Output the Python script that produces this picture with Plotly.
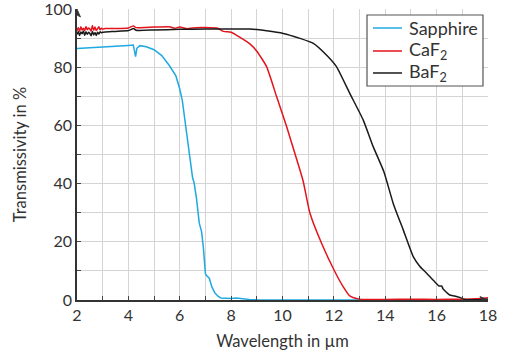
import plotly.graph_objects as go

sap_x = [2.0, 2.5, 3.0, 3.5, 4.0, 4.19, 4.24, 4.28, 4.33, 4.45, 4.7, 5.0, 5.3, 5.6, 5.85, 6.0, 6.1, 6.27,
         6.4, 6.5, 6.56, 6.65, 6.76, 6.85, 6.92, 7.0, 7.05, 7.15, 7.25, 7.37, 7.5, 7.6, 7.8, 8.0, 8.2, 8.4,
         8.7, 9.0, 10.0, 12.0, 14.0, 16.0, 18.0]
sap_y = [86.4, 86.6, 86.9, 87.2, 87.5, 87.6, 85.5, 83.6, 86.5, 87.4, 87.0, 86.0, 84.0, 80.5, 77.0, 72.5, 68.5,
         57.3, 47.0, 42.0, 40.2, 35.0, 26.4, 23.5, 18.0, 9.0, 8.3, 7.5, 4.5, 2.4, 1.2, 0.7, 0.6, 0.5, 0.7, 0.4,
         0.2, 0.1, 0.05, 0.0, 0.0, 0.0, 0.0]

caf_x = [2.0, 2.05, 2.1, 2.15, 2.2, 2.25, 2.3, 2.35, 2.4, 2.45, 2.5, 2.55, 2.6, 2.65, 2.7, 2.75, 2.8, 2.85,
         2.9, 2.95, 3.0, 3.1, 3.5, 4.0, 4.2, 4.3, 5.0, 5.6, 5.8, 6.0, 6.3, 6.5, 7.0, 7.5, 7.7, 8.0, 8.3,
         8.73, 9.0, 9.38, 9.77, 10.16, 10.48, 10.8, 11.07, 11.52, 12.04, 12.36, 12.62, 13.0, 14.0, 15.0,
         16.0, 17.0, 17.5, 18.0]
caf_y = [92.5, 93.6, 92.3, 93.9, 92.8, 93.4, 92.6, 94.0, 92.9, 93.5, 93.1, 92.4, 94.3, 92.7, 93.8, 92.6, 93.2,
         93.9, 92.9, 93.4, 93.1, 93.3, 93.3, 93.5, 94.2, 93.6, 93.8, 93.9, 93.4, 93.8, 93.2, 93.5, 93.6, 93.3,
         92.3, 92.0, 90.5, 88.0, 85.5, 80.2, 69.9, 59.6, 50.4, 41.0, 29.8, 19.5, 9.7, 4.6, 1.4, 0.3, 0.2, 0.3,
         0.2, 0.3, 0.4, 0.8]

baf_x = [2.0, 2.05, 2.1, 2.15, 2.2, 2.25, 2.3, 2.35, 2.4, 2.45, 2.5, 2.55, 2.6, 2.65, 2.7, 2.75, 2.8, 2.85,
         2.9, 2.95, 3.0, 3.1, 3.5, 4.0, 4.2, 4.3, 5.0, 6.0, 7.0, 8.0, 8.73, 9.38, 10.03, 10.68, 11.2, 11.71,
         12.1, 12.62, 13.14, 13.53, 13.95, 14.31, 14.7, 15.09, 15.35, 15.61, 15.9, 16.1, 16.2, 16.25, 16.4,
         16.51, 16.7, 16.9, 17.1, 17.5, 18.0]
baf_y = [91.2, 92.3, 90.9, 92.1, 91.5, 92.4, 91.0, 92.2, 91.3, 92.0, 91.6, 90.8, 92.3, 91.1, 91.9, 90.9, 92.0,
         91.4, 92.2, 91.8, 92.0, 92.1, 92.3, 92.6, 93.3, 92.7, 92.8, 93.0, 93.1, 93.1, 93.1, 92.5, 91.6, 89.9,
         88.2, 84.2, 80.2, 71.0, 61.9, 52.7, 44.0, 33.2, 24.1, 14.9, 11.5, 9.2, 6.5, 4.8, 4.8, 3.8, 2.5, 1.7,
         1.4, 0.9, 0.2, 0.1, 0.3]

series_names = ["Sapphire", "CaF<sub>2</sub>", "BaF<sub>2</sub>"]
series_colors = ["#1ea9e1", "#e3141c", "#1a1a1a"]
series_shapes = ["linear", "spline", "spline"]

x_ticks = [2, 4, 6, 8, 10, 12, 14, 16, 18]
y_ticks = [0, 20, 40, 60, 80, 100]

FONT = "Lato"
TXT = "#333333"
GRID = "#d4d4d4"
AXIS = "#333333"

fig = go.Figure()
for xs, ys, nm, col, shp in zip([sap_x, caf_x, baf_x], [sap_y, caf_y, baf_y], series_names,
                                series_colors, series_shapes):
    fig.add_trace(go.Scatter(x=xs, y=ys, mode="lines", name=nm, showlegend=False,
                             line=dict(color=col, width=1.5, shape=shp, smoothing=0.5)))

fig.update_layout(
    width=506, height=354,
    margin=dict(l=77, r=18, t=9, b=54, autoexpand=False),
    paper_bgcolor="white", plot_bgcolor="white",
    font=dict(family=FONT, size=16, color=TXT),
    showlegend=False,
    xaxis=dict(range=[2, 18], tickvals=x_ticks, ticktext=[str(v) for v in x_ticks],
               automargin=False, ticklabeloverflow="allow",
               showgrid=True, gridcolor=GRID, gridwidth=1,
               minor=dict(dtick=1, showgrid=True, gridcolor=GRID, gridwidth=1,
                          ticks="inside", ticklen=4, tickcolor="#444"),
               ticks="inside", ticklen=4, tickcolor="#444",
               showline=True, linecolor=AXIS, linewidth=1.5,
               zeroline=False,
               title=dict(text="Wavelength in µm", font=dict(size=16.5, color=TXT), standoff=12),
               tickfont=dict(size=16, color=TXT)),
    yaxis=dict(range=[0, 100], tickvals=y_ticks, ticktext=[str(v) for v in y_ticks],
               automargin=False, ticklabeloverflow="allow",
               showgrid=True, gridcolor=GRID, gridwidth=1,
               minor=dict(dtick=10, showgrid=True, gridcolor=GRID, gridwidth=1,
                          ticks="inside", ticklen=4, tickcolor="#444"),
               ticks="inside", ticklen=4, tickcolor="#444",
               showline=True, linecolor=AXIS, linewidth=1.5,
               zeroline=False,
               title=dict(text="Transmissivity in %", font=dict(size=16.5, color=TXT), standoff=13),
               tickfont=dict(size=16, color=TXT)),
)

# Legend box drawn by hand (paper coordinates of the plot area)
fig.add_shape(type="rect", xref="paper", yref="paper", x0=0.7056, x1=0.9878, y0=0.7354, y1=0.9794,
              fillcolor="white", line=dict(color="#555555", width=1.2), layer="above")
leg_rows = [0.9347, 0.8557, 0.7801]
for yy, nm, col in zip(leg_rows, series_names, series_colors):
    fig.add_shape(type="line", xref="paper", yref="paper", x0=0.7202, x1=0.7908, y0=yy, y1=yy,
                  line=dict(color=col, width=1.5), layer="above")
    fig.add_annotation(xref="paper", yref="paper", x=0.8029, y=yy, xanchor="left", yanchor="middle",
                       text=nm, showarrow=False, font=dict(family=FONT, size=18, color=TXT))

# Arrowheads at the axis ends (pixel-sized paths anchored to the axis ends)
fig.add_shape(type="path", xref="x", yref="y", xsizemode="pixel", ysizemode="pixel",
              xanchor=2, yanchor=100, path="M0,0 L-3.5,-8 L0,-6 L3.5,-8 Z",
              fillcolor=AXIS, line=dict(color=AXIS, width=0.8), layer="above")
fig.add_shape(type="path", xref="x", yref="y", xsizemode="pixel", ysizemode="pixel",
              xanchor=18, yanchor=0, path="M0,0 L-8,3.5 L-6,0 L-8,-3.5 Z",
              fillcolor=AXIS, line=dict(color=AXIS, width=0.8), layer="above")

fig.write_html("out.html", config={"displayModeBar": False},
               post_script="document.body.style.margin='0';document.body.style.padding='0';")
